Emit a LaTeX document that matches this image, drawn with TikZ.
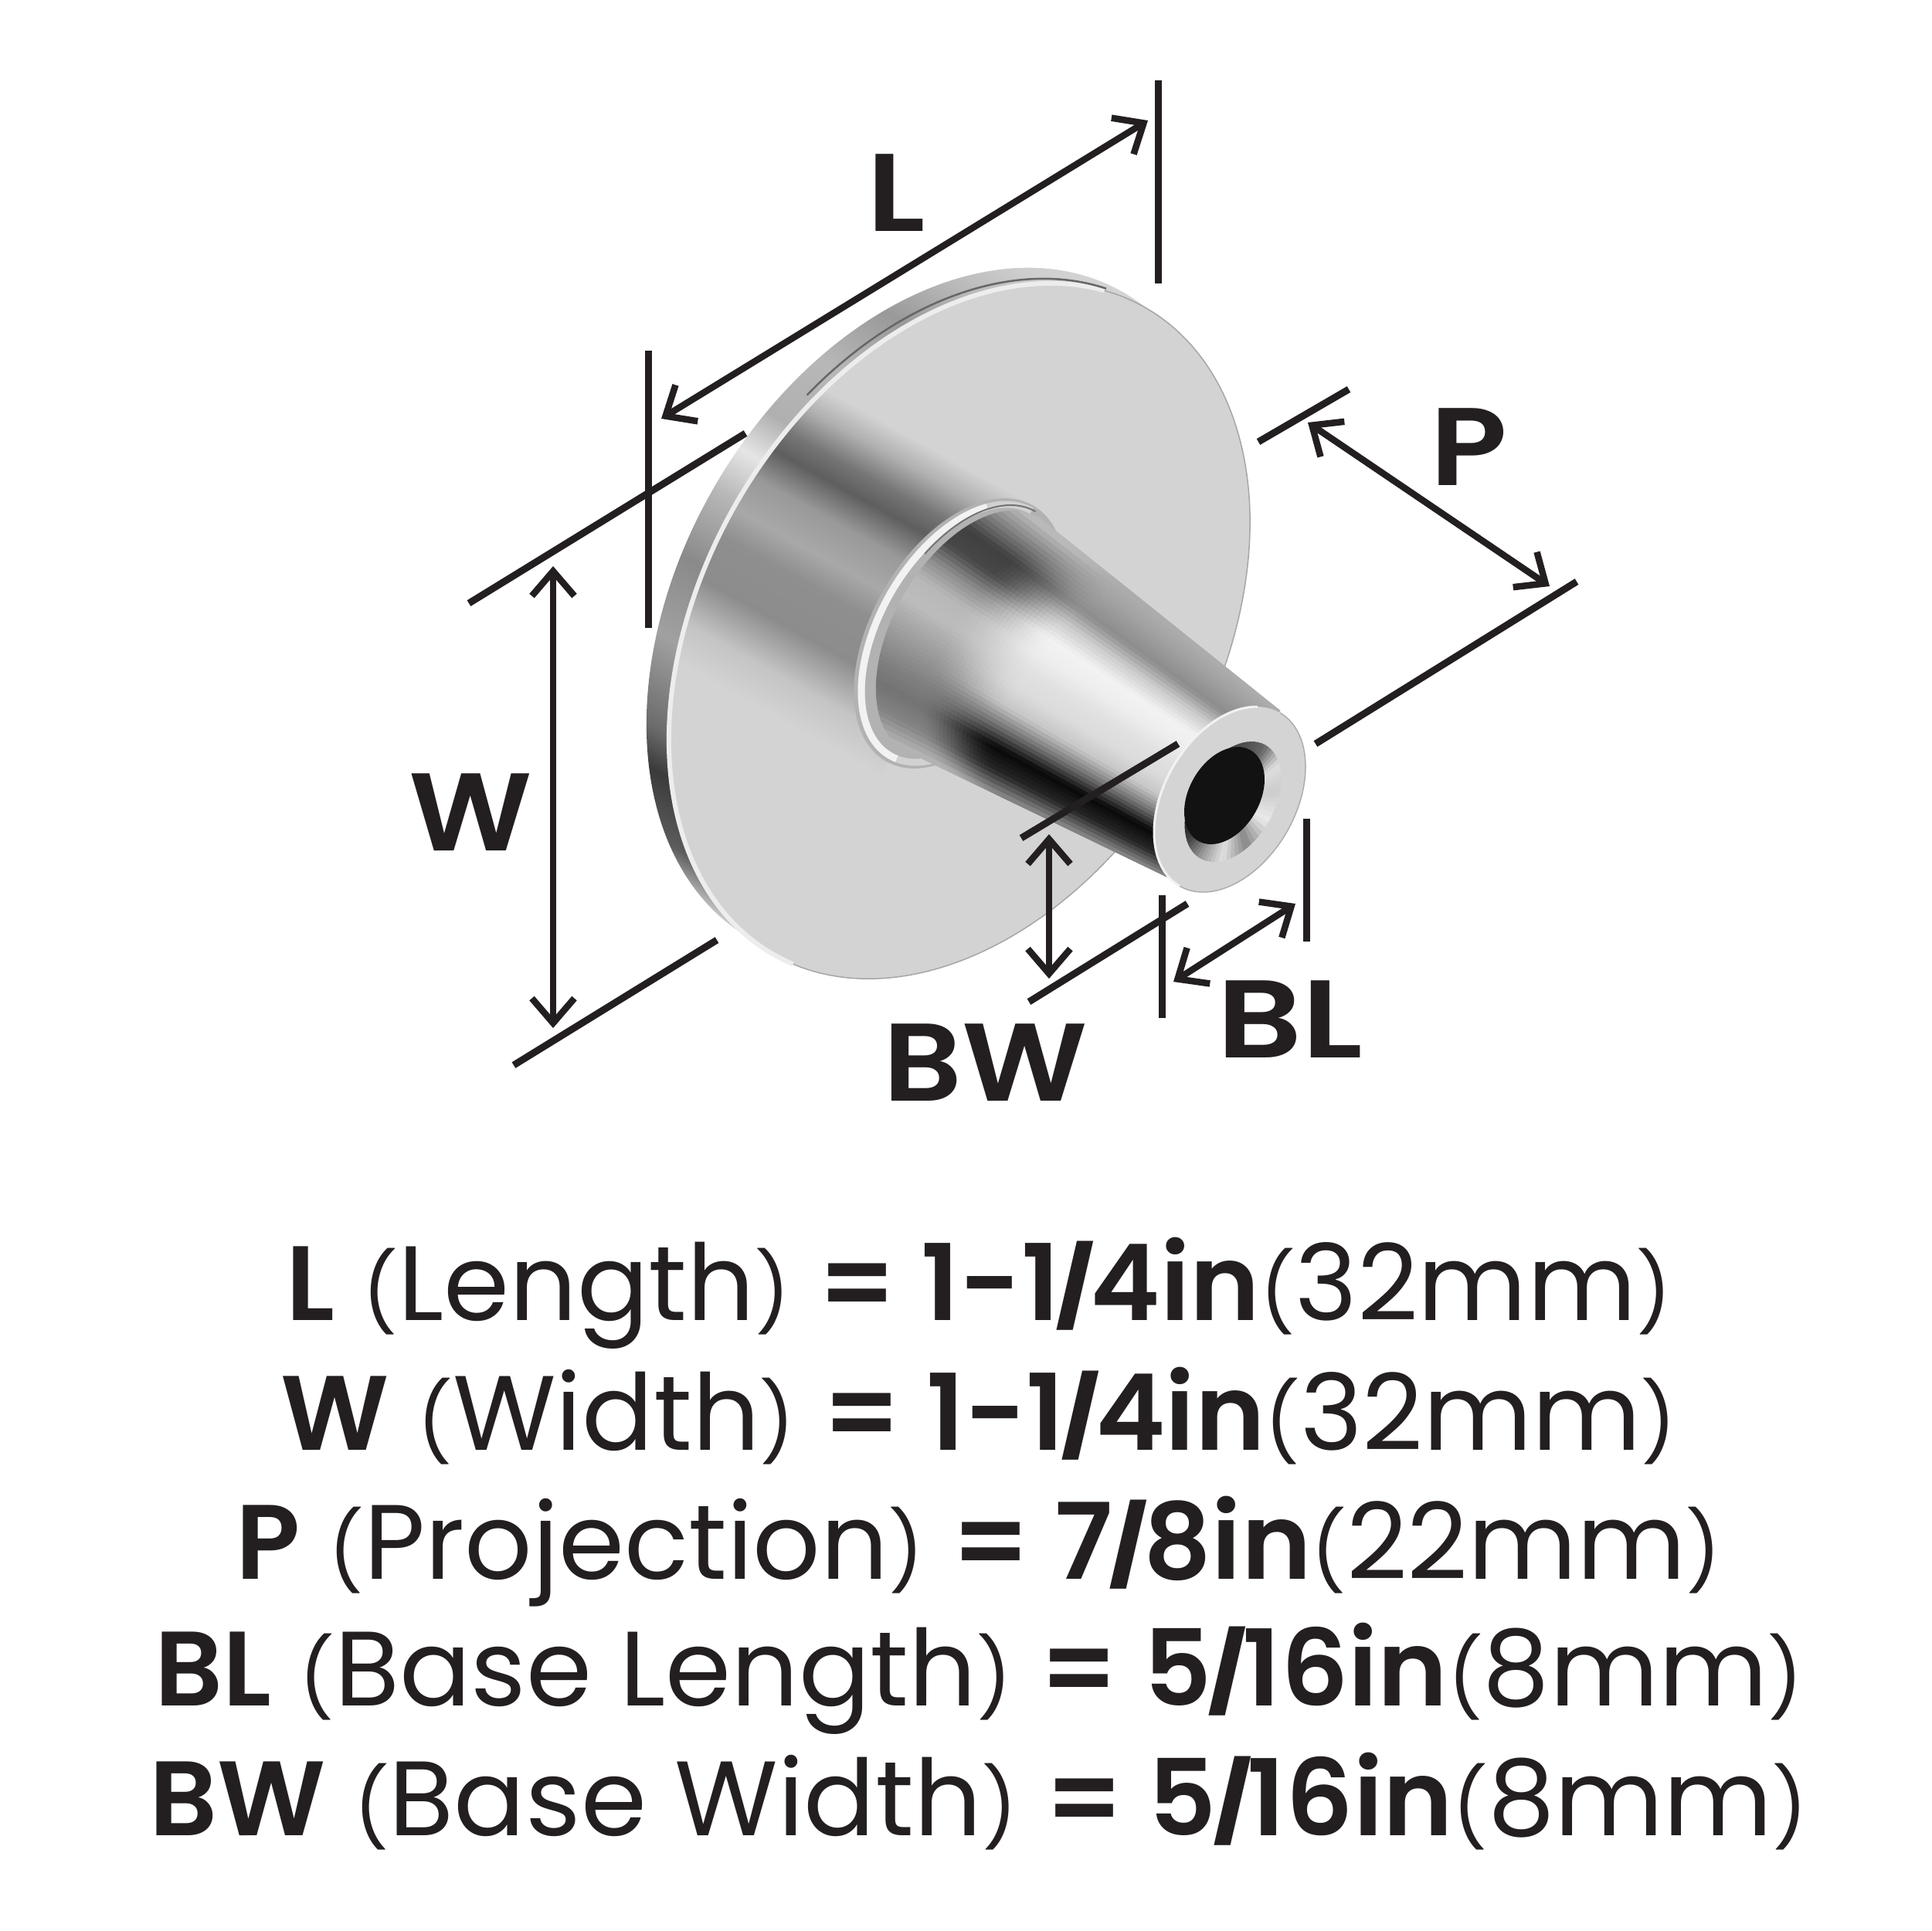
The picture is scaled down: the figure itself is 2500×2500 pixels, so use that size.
\documentclass[tikz,border=0pt]{standalone}
\usepackage{fontspec}
\setmainfont{Poppins}
\newfontfamily\fbold{Poppins SemiBold}
\usetikzlibrary{arrows.meta}
\definecolor{ink}{HTML}{231F20}
\definecolor{facec}{HTML}{D3D3D3}
\pgfdeclareverticalshading{rimshade}{100bp}{
 color(0bp)=(white!88!black); color(25bp)=(white!88!black); color(26.75bp)=(white!85!black);
 color(29.4bp)=(white!36!black); color(33bp)=(white!23!black); color(35.25bp)=(white!42!black);
 color(40.5bp)=(white!63!black); color(45.4bp)=(white!54!black); color(50bp)=(white!72!black);
 color(52.95bp)=(white!90!black); color(55.75bp)=(white!69!black); color(60.3bp)=(white!72!black);
 color(64.8bp)=(white!60!black); color(68.25bp)=(white!72!black); color(71.45bp)=(white!81!black);
 color(75bp)=(white!85!black); color(100bp)=(white!85!black)}
\pgfdeclareverticalshading{bandshade}{100bp}{
 color(0bp)=(facec); color(28.1bp)=(facec); color(33.3bp)=(white!77!black);
 color(39.5bp)=(white!55!black); color(46bp)=(white!56!black); color(50bp)=(white!66!black);
 color(55bp)=(white!60!black); color(59.5bp)=(white!37!black); color(62.5bp)=(white!46!black);
 color(66.5bp)=(white!69!black); color(70bp)=(facec); color(100bp)=(facec)}
\def\palA{{0.72,0.52,0.45,0.50,0.58,0.66,0.74,0.72,0.55,0.28,0.25,0.50,0.75}}
\def\palB{{0.55,0.15,0.03,0.45,0.78,0.86,0.88,0.93,0.95,0.80,0.55,0.62,0.68}}
\def\palC{{0.40,0.30,0.25,0.15,0.07,0.25,0.60,0.88,0.53,0.92,0.80,0.87,0.40}}
\tikzset{
 dimline/.style={ink,line width=9pt},
 dimarrow/.style={ink,line width=8.5pt,{Straight Barb[length=32pt,width=55pt]}-{Straight Barb[length=32pt,width=55pt]}},
 biglabel/.style={text=ink,inner sep=0pt,font=\fontsize{143}{143}\selectfont\fbold},
 textline/.style={text=ink,inner sep=0pt,anchor=base,font=\fontsize{137}{137}\selectfont},
}
\newcommand{\lpar}{{\fontsize{100}{100}\selectfont(}}
\newcommand{\rpar}{{\fontsize{100}{100}\selectfont)}}
\newcommand{\slh}{\raisebox{7pt}{\fontsize{100}{100}\selectfont\bfseries/}}
% half-ellipse stroke: centre x, centre y, a, b, from, to
\newcommand{\ellarc}[6]{plot[domain=#5:#6,samples=90,smooth] ({#1+#3*cos(\x)*.5-#4*sin(\x)*.866},{#2-#3*cos(\x)*.866-#4*sin(\x)*.5})}
\begin{document}
\begin{tikzpicture}[x=1pt,y=-1pt]
\useasboundingbox (0,0) rectangle (2500,2500);
\fill[white] (0,0) rectangle (2500,2500);
% ---- plate: back rim
\fill[white!80!black] (1213+241.5,797-418) -- (1242+241.5,817-418) -- (1242-241.5,817+418) -- (1213-241.5,797+418) -- cycle;
\begin{scope}
 \clip (1213,797) ellipse [x radius=483pt,y radius=333pt,rotate=60];
 \begin{scope}[transform canvas={shift={(1229,808)},rotate=-30}]
  \shade[shading=rimshade] (-700,-520) rectangle (700,520);
 \end{scope}
\end{scope}
% ---- plate: face
\fill[facec] (1242,817) ellipse [x radius=483pt,y radius=333pt,rotate=60];
\begin{scope}
 \clip (1242,817) ellipse [x radius=483pt,y radius=333pt,rotate=60];
 \begin{scope}[transform canvas={shift={(1242,820)},rotate=-29}]
  \shade[shading=bandshade] (-640,-240) rectangle (0,240);
 \end{scope}
\end{scope}
\draw[white!93!black,line width=6pt] \ellarc{1242}{817}{483}{333}{10}{185};
\draw[white!40!black,line width=2.5pt] \ellarc{1233}{811}{483}{333}{8}{70};
\draw[white!65!black,line width=1.5pt] \ellarc{1242}{817}{483}{333}{185}{370};
% ---- step ring
\fill[white!70!black] (1242,820) ellipse [x radius=191pt,y radius=113pt,rotate=60];
\draw[white!82!black,line width=9pt] \ellarc{1244}{820}{183}{105}{0}{225};
\draw[white!95!black,line width=9pt] \ellarc{1244}{820}{183}{105}{30}{185};
\draw[white!45!black,line width=2pt] \ellarc{1250}{819}{181}{103}{0}{70};
% ---- tapered body, a mesh of small cells
\foreach \i in {0,...,59}{
 \pgfmathsetmacro\sa{\i/60}
 \pgfmathsetmacro\sb{(\i+1)/60}
 \pgfmathsetmacro\va{2*\sa-1}
 \pgfmathsetmacro\vb{2*\sb-1}
 \pgfmathsetmacro\Ax{1257+87*\va-86.6*sqrt(max(0,1-\va*\va))}
 \pgfmathsetmacro\Ay{820-150.7*\va-50*sqrt(max(0,1-\va*\va))}
 \pgfmathsetmacro\Bx{1257+87*\vb-86.6*sqrt(max(0,1-\vb*\vb))}
 \pgfmathsetmacro\By{820-150.7*\vb-50*sqrt(max(0,1-\vb*\vb))}
 \pgfmathsetmacro\Cx{1510+147*\sa}
 \pgfmathsetmacro\Cy{1135-215*\sa}
 \pgfmathsetmacro\Dx{1510+147*\sb}
 \pgfmathsetmacro\Dy{1135-215*\sb}
 \pgfmathsetmacro\xx{12*(\sa+\sb)/2}
 \pgfmathtruncatemacro\kk{\xx}
 \pgfmathsetmacro\ff{\xx-\kk}
 \pgfmathsetmacro\ga{\palA[\kk]*(1-\ff)+\palA[\kk+1]*\ff}
 \pgfmathsetmacro\gb{\palB[\kk]*(1-\ff)+\palB[\kk+1]*\ff}
 \foreach \j in {0,...,28}{
  \pgfmathsetmacro\ta{\j==0 ? 0 : (\j<=25 ? 0.12+(\j-1)*0.0125 : 0.42+(\j-25)*0.145)}
  \pgfmathsetmacro\tb{\j<=24 ? 0.12+\j*0.0125 : 0.42+(\j-24)*0.145}
  \pgfmathsetmacro\w{min(1,max(0,(0.5*\ta+0.5*\tb-0.14)/0.26))}
  \pgfmathsetmacro\g{\ga+(\gb-\ga)*\w*\w*(3-2*\w)}
  \definecolor{mc}{gray}{\g}
  \filldraw[fill=mc,draw=mc,line width=.8pt]
   ({\Ax+\ta*(\Cx-\Ax)},{\Ay+\ta*(\Cy-\Ay)}) --
   ({\Bx+\ta*(\Dx-\Bx)},{\By+\ta*(\Dy-\By)}) --
   ({\Bx+\tb*(\Dx-\Bx)},{\By+\tb*(\Dy-\By)}) --
   ({\Ax+\tb*(\Cx-\Ax)},{\Ay+\tb*(\Cy-\Ay)}) -- cycle;
 }
}
% ---- end face
\fill[facec!97!white] (1592,1035) ellipse [x radius=129.6pt,y radius=84.9pt,rotate=60];
\draw[white!68!black,line width=1.5pt] \ellarc{1592}{1035}{129.6}{84.9}{-180}{0};
\draw[white!95!black,line width=3pt] \ellarc{1592}{1035}{129.6}{84.9}{20}{180};
\foreach \q in {0,...,71}{
 \pgfmathsetmacro\pa{\q*5}
 \pgfmathsetmacro\pb{\q*5+5.6}
 \pgfmathsetmacro\xx{(\pa+2.5)/30}
 \pgfmathtruncatemacro\kk{\xx}
 \pgfmathsetmacro\ff{\xx-\kk}
 \pgfmathsetmacro\g{\palC[\kk]*(1-\ff)+\palC[\kk+1]*\ff}
 \definecolor{mc}{gray}{\g}
 \fill[mc] (1596,1038) -- ({1596+84.7*cos(\pa)*.5-53*sin(\pa)*.866},{1038-84.7*cos(\pa)*.866-53*sin(\pa)*.5}) --
  ({1596+84.7*cos(\pb)*.5-53*sin(\pb)*.866},{1038-84.7*cos(\pb)*.866-53*sin(\pb)*.5}) -- cycle;
}
\fill[black!93] (1585,1030) ellipse [x radius=67.8pt,y radius=45.5pt,rotate=60];
% ---- extension lines and dimensions
\coordinate (La) at (1499,104); \coordinate (Lb) at (1499,367);
\coordinate (Lc) at (839,454);  \coordinate (Ld) at (839,813);
\coordinate (Le) at (1486,156); \coordinate (Lf) at (856,542);
\coordinate (Wa) at (965,561);  \coordinate (Wb) at (607,781);
\coordinate (Wc) at (928,1217); \coordinate (Wd) at (665,1379);
\coordinate (We) at (716,733);  \coordinate (Wf) at (716,1331);
\coordinate (Pa) at (1746,504); \coordinate (Pb) at (1629,572);
\coordinate (Pc) at (2041,753); \coordinate (Pd) at (1703,963);
\coordinate (Pe) at (1693,547); \coordinate (Pf) at (2006,759);
\coordinate (Ba) at (1525,963); \coordinate (Bb) at (1322,1085);
\coordinate (Bc) at (1537,1170);\coordinate (Bd) at (1332,1297);
\coordinate (Be) at (1358,1080);\coordinate (Bf) at (1358,1267);
\coordinate (Ca) at (1504,1159);\coordinate (Cb) at (1504,1318);
\coordinate (Cc) at (1691,1060);\coordinate (Cd) at (1691,1219);
\coordinate (Ce) at (1677,1170);\coordinate (Cf) at (1519,1271);
\draw[dimline] (La)--(Lb); \draw[dimline] (Lc)--(Ld); \draw[dimarrow] (Le)--(Lf);
\draw[dimline] (Wa)--(Wb); \draw[dimline] (Wc)--(Wd); \draw[dimarrow] (We)--(Wf);
\draw[dimline] (Pa)--(Pb); \draw[dimline] (Pc)--(Pd); \draw[dimarrow] (Pe)--(Pf);
\draw[dimline] (Ba)--(Bb); \draw[dimline] (Bc)--(Bd); \draw[dimarrow] (Be)--(Bf);
\draw[dimline] (Ca)--(Cb); \draw[dimline] (Cc)--(Cd); \draw[dimarrow] (Ce)--(Cf);
% ---- labels
\node[biglabel] (tL) at (1160,250) {\scalebox{1.15}[1]{L}};
\node[biglabel] (tW) at (609,1052) {\scalebox{1.09}[1]{W}};
\node[biglabel] (tP) at (1901,579) {\scalebox{1.15}[1]{P}};
\node[biglabel] (tBW) at (1276,1376) {\scalebox{1.11}[1]{BW}};
\node[biglabel] (tBL) at (1670,1320) {\scalebox{1.2}[1]{BL}};
\node[textline] (t1) at (1267,1709) {{\fbold L} \lpar Length\rpar{} {\fbold = 1-1\slh 4in}\lpar 32mm\rpar};
\node[textline] (t2) at (1267,1877) {{\fbold W} \lpar Width\rpar{} {\fbold = 1-1\slh 4in}\lpar 32mm\rpar};
\node[textline] (t3) at (1267,2044) {{\fbold P} \lpar Projection\rpar{} {\fbold = 7\slh 8in}\lpar 22mm\rpar};
\node[textline] (t4) at (1267,2208) {{\fbold BL} \lpar Base Length\rpar{} {\fbold = 5\slh 16in}\lpar 8mm\rpar};
\node[textline] (t5) at (1267,2376) {{\fbold BW} \lpar Base Width\rpar{} {\fbold = 5\slh 16in}\lpar 8mm\rpar};
\end{tikzpicture}
\end{document}
